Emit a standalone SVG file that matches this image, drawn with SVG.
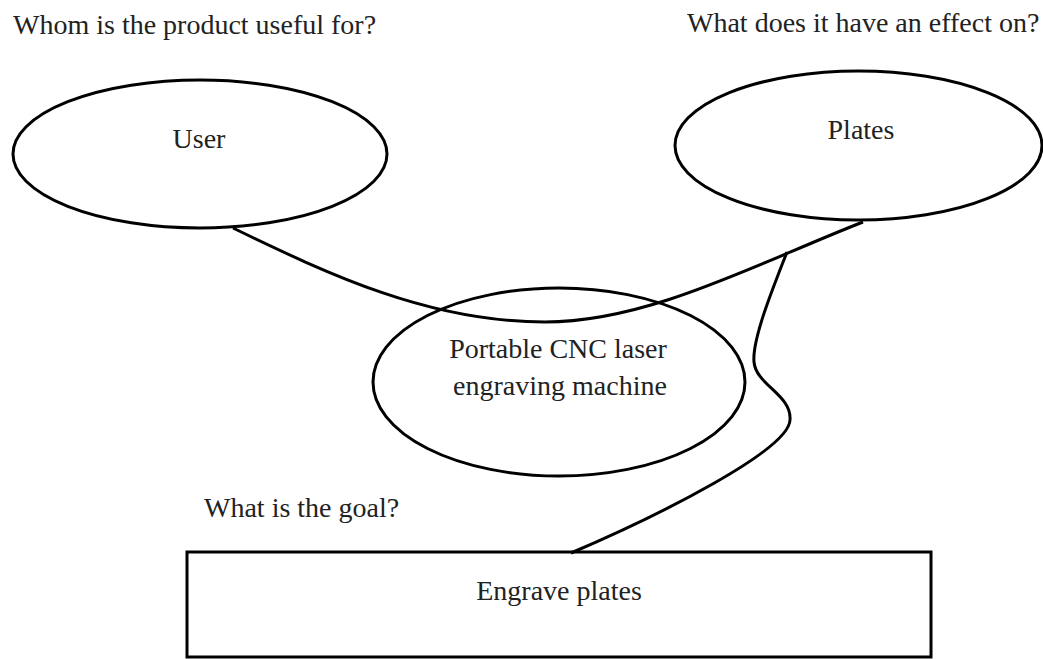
<svg xmlns="http://www.w3.org/2000/svg" width="1043" height="659" viewBox="0 0 1043 659">
<style>
.t{font-family:"Liberation Serif","Times New Roman",serif;font-size:28px;fill:#222}
.c{text-anchor:middle}
.s{fill:#fff;stroke:#000;stroke-width:3}
.ln{fill:none;stroke:#000;stroke-width:3}
</style>
<rect width="1043" height="659" fill="#fff"/>
<text class="t" x="13" y="34">Whom is the product useful for?</text>
<text class="t" x="687" y="32">What does it have an effect on?</text>
<text class="t" x="204" y="517">What is the goal?</text>
<g id="node-user">
<ellipse class="s" cx="200" cy="154" rx="187" ry="74"/>
<text class="t c" x="199" y="148">User</text>
</g>
<g id="node-plates">
<ellipse class="s" cx="858.5" cy="145.5" rx="183.5" ry="74.5"/>
<text class="t c" x="861" y="139">Plates</text>
</g>
<g id="node-machine">
<ellipse class="s" cx="559" cy="382" rx="186" ry="94" style="fill:none"/>
<text class="t c" x="558" y="358">Portable CNC laser</text>
<text class="t c" x="560" y="395">engraving machine</text>
</g>
<g id="node-goal">
<rect class="s" x="187" y="552" width="744" height="105"/>
<text class="t c" x="559" y="600">Engrave plates</text>
</g>
<g id="connectors">
<path class="ln" d="M233,228 C330,275 430,322 545,322 C650,322 760,262 863,222"/>
<path class="ln" d="M787,252 C772,290 752,340 754,362 C756,385 792,395 790,420 C789,450 660,515 571,553"/>
</g>
</svg>
